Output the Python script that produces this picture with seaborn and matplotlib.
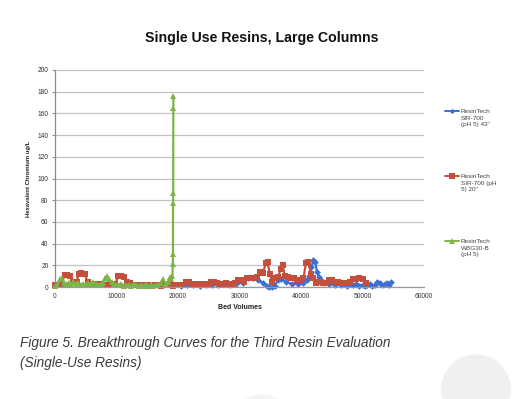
import matplotlib
matplotlib.use("Agg")
import matplotlib.pyplot as plt
from matplotlib.lines import Line2D
from matplotlib.patches import Ellipse
import pandas as pd
import seaborn as sns

# Bed volumes vs hexavalent chromium (ug/L)
blue_x = [20500, 21500, 22500, 23500, 24500, 25500, 26500, 27500, 28500, 29500,
          30500, 31400, 32200, 33000, 33800, 34400, 34800, 35300, 35700, 36200,
          36800, 37500, 38500, 39500, 40300, 40900, 41300, 41700, 42000, 42300,
          42600, 42900, 43300, 43800, 44500, 45500, 46500, 47500, 48000, 48500,
          49000, 49500, 50000, 50400, 50800, 51200, 51600, 52000, 52400, 52800,
          53200, 53600, 54000, 54300, 54600]
blue_y = [1, 2, 2, 1, 2, 2, 2, 3, 2, 3,
          4, 8, 8, 6, 4, 1, 0, 0, 1, 6,
          7, 5, 3, 3, 4, 6, 10, 18, 25, 23,
          14, 9, 6, 4, 3, 2, 2, 1, 3, 2,
          3, 1, 2, 1, 2, 3, 1, 2, 5, 4,
          2, 3, 4, 2, 5]

red_x = [0, 500, 1000, 1600, 2000, 2500, 3000, 3500, 3900, 4300,
         4800, 5300, 5800, 6300, 6800, 7300, 7800, 8300, 8800, 9300,
         9800, 10300, 10700, 11200, 11700, 12200, 12700, 13200, 13700, 14200,
         14700, 15200, 15700, 16200, 16700, 17200, 17700, 18200, 18700, 19200,
         19700, 20200, 20700, 21300, 21800, 22300, 22800, 23300, 23800, 24300,
         24800, 25300, 25800, 26300, 26800, 27300, 27800, 28300, 28800, 29300,
         29800, 30300, 30800, 31300, 31800, 32300, 32800, 33300, 33800, 34300,
         34600, 34900, 35300, 35800, 36300, 36700, 37000, 37400, 37900, 38400,
         38900, 39400, 39900, 40400, 40800, 41200, 41600, 42000, 42500, 43000,
         43500, 44000, 44500, 45000, 45500, 46000, 46500, 47000, 47500, 48000,
         48500, 49000, 49500, 50000, 50500]
red_y = [2, 2, 3, 11, 11, 10, 5, 5, 12, 13,
         12, 5, 3, 3, 2, 3, 2, 2, 2, 2,
         3, 10, 10, 9, 5, 4, 2, 2, 2, 1,
         2, 2, 1, 2, 2, 1, 2, 2, 2, 1,
         2, 2, 2, 5, 5, 3, 3, 3, 2, 3,
         3, 5, 5, 4, 3, 3, 4, 3, 3, 4,
         6, 6, 5, 8, 8, 8, 9, 14, 13, 22,
         23, 12, 5, 8, 9, 17, 20, 10, 9, 8,
         8, 6, 6, 8, 22, 23, 12, 8, 4, 5,
         4, 4, 6, 6, 5, 5, 4, 4, 4, 5,
         7, 7, 8, 7, 4]

green_x = [0, 400, 800, 1100, 1400, 1800, 2200, 2600, 3000, 3400,
           3800, 4200, 4600, 5000, 5400, 5800, 6200, 6600, 7000, 7400,
           7800, 8200, 8500, 8800, 9200, 9600, 10000, 10400, 10800, 11200,
           11600, 12000, 12400, 12800, 13200, 13600, 14000, 14400, 14800, 15200,
           15600, 16000, 16400, 16800, 17200, 17600, 18000, 18400, 18700, 18900,
           19100, 19150, 19180, 19200, 19220, 19240, 19260]
green_y = [1, 2, 7, 8, 4, 3, 4, 3, 5, 3,
           4, 2, 3, 2, 4, 3, 5, 3, 2, 3,
           4, 8, 10, 7, 5, 3, 2, 2, 3, 1,
           2, 2, 1, 3, 2, 1, 2, 1, 3, 1,
           2, 1, 2, 2, 4, 7, 3, 5, 9, 7,
           10, 21, 30, 77, 87, 165, 176]

series_labels = ['ResinTech\nSIR-700\n(pH 5) 43"',
                 'ResinTech\nSIR-700 (pH\n5) 20"',
                 'ResinTech\nWBG30-B\n(pH 5)']
y_ticks = list(range(0, 201, 20))
x_ticks = list(range(0, 60001, 10000))

colors = ["#3b6fd4", "#c44f3c", "#7db446"]
markers = ["D", "s", "^"]
msizes = [3.4, 4.8, 4.8]

sns.set_theme(style="white")
plt.rcParams["font.family"] = ["Liberation Sans", "DejaVu Sans"]

fig = plt.figure(figsize=(5.19, 3.99), dpi=100)
ax = fig.add_axes([55 / 519, 1 - 287 / 399, 369 / 519, 217 / 399])

frames = [pd.DataFrame({"bv": blue_x, "cr": blue_y}),
          pd.DataFrame({"bv": red_x, "cr": red_y}),
          pd.DataFrame({"bv": green_x, "cr": green_y})]
for df, c, m, ms in zip(frames, colors, markers, msizes):
    sns.lineplot(data=df, x="bv", y="cr", ax=ax, color=c, marker=m,
                 markersize=ms, markeredgewidth=0, linewidth=1.6,
                 estimator=None, sort=False, clip_on=False)

ax.set_xlim(0, 60000)
ax.set_ylim(0, 200)
ax.set_yticks(y_ticks)
ax.set_xticks(x_ticks)
ax.set_yticklabels([str(v) for v in y_ticks])
ax.set_xticklabels([str(v) for v in x_ticks])
ax.yaxis.grid(True, color="#c2c2c2", linewidth=0.9)
ax.xaxis.grid(False)
for side in ["top", "right"]:
    ax.spines[side].set_visible(False)
ax.spines["left"].set_color("#8a8a8a")
ax.spines["bottom"].set_color("#9a9a9a")
ax.spines["left"].set_linewidth(0.9)
ax.spines["bottom"].set_linewidth(0.9)
ax.tick_params(axis="y", length=2.2, width=0.7, color="#8a8a8a", pad=2.5,
               labelsize=4.8, labelcolor="#333333", left=True)
ax.tick_params(axis="x", length=0, pad=4.5, labelsize=4.8, labelcolor="#333333")
ax.set_xlabel("Bed Volumes", fontsize=5, fontweight="bold", color="#222222", labelpad=3)
ax.set_ylabel("Hexavalent Chromium ug/L", fontsize=4.2, fontweight="bold",
              color="#222222", labelpad=5)

# legend: one block per series, spread down the right side
blank = Line2D([], [], color="none")
tops = [109, 174, 239]
for c, m, ms, lab, top in zip(colors, markers, msizes, series_labels, tops):
    h = Line2D([], [], color=c, marker=m, markersize=ms * 0.8, markeredgewidth=0, linewidth=1.4)
    lines = lab.split("\n")
    leg = fig.legend([h, blank, blank], lines, loc="upper left",
                     bbox_to_anchor=(445 / 519, 1 - top / 399), frameon=False,
                     fontsize=4.6, handlelength=2.2, handletextpad=0.3,
                     labelspacing=0.15, borderpad=0, borderaxespad=0)
    for t in leg.get_texts():
        t.set_color("#444444")

fig.text(262 / 519, 1 - 38 / 399, "Single Use Resins, Large Columns",
         ha="center", va="center", fontsize=10.2, fontweight="bold", color="#111111")
fig.text(20 / 519, 1 - 343 / 399,
         "Figure 5. Breakthrough Curves for the Third Resin Evaluation",
         ha="left", va="center", fontsize=9.8, style="italic", color="#3a3a3a")
fig.text(20 / 519, 1 - 363 / 399, "(Single-Use Resins)",
         ha="left", va="center", fontsize=9.8, style="italic", color="#3a3a3a")

# faint decorative circles from the page background
fig.add_artist(Ellipse((476 / 519, 1 - 389 / 399), 68 / 519, 68 / 399,
                       transform=fig.transFigure, color="#f0f0f2", zorder=-1))
fig.add_artist(Ellipse((262 / 519, 1 - 425 / 399), 60 / 519, 60 / 399,
                       transform=fig.transFigure, color="#f3f3f5", zorder=-1))

fig.savefig("out.png", dpi=100)
